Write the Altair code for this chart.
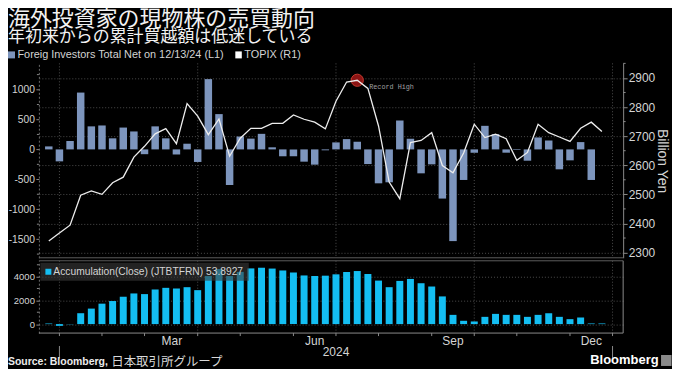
import altair as alt
import pandas as pd

# ---------------- data ----------------
week_dates = [
    "2023-12-22", "2023-12-29", "2024-01-05", "2024-01-12", "2024-01-19", "2024-01-26",
    "2024-02-02", "2024-02-09", "2024-02-16", "2024-02-23", "2024-03-01", "2024-03-08",
    "2024-03-15", "2024-03-22", "2024-03-29", "2024-04-05", "2024-04-12", "2024-04-19",
    "2024-04-26", "2024-05-03", "2024-05-10", "2024-05-17", "2024-05-24", "2024-05-31",
    "2024-06-07", "2024-06-14", "2024-06-21", "2024-06-28", "2024-07-05", "2024-07-12",
    "2024-07-19", "2024-07-26", "2024-08-02", "2024-08-09", "2024-08-16", "2024-08-23",
    "2024-08-30", "2024-09-06", "2024-09-13", "2024-09-20", "2024-09-27", "2024-10-04",
    "2024-10-11", "2024-10-18", "2024-10-25", "2024-11-01", "2024-11-08", "2024-11-15",
    "2024-11-22", "2024-11-29", "2024-12-06", "2024-12-13", "2024-12-20",
]
net_buy = [
    50, -200, 140, 950, 385, 400, 185, 365, 300, -80,
    385, 185, -85, 95, -210, 1175, 590, -595, 215, 180,
    260, 35, -115, -115, -205, -255, -15, 117, 172, 128,
    -245, -567, -550, 483, 178, -400, -250, -822, -1533, -511,
    -56, 394, 256, -55, -10, -189, 200, 150, -333, -183,
    122, -511,
]
topix = [
    2340, 2367, 2394, 2497, 2512, 2500, 2540, 2559, 2628, 2665,
    2708, 2726, 2674, 2812, 2769, 2705, 2759, 2631, 2693, 2727,
    2727, 2744, 2744, 2773, 2758, 2748, 2725, 2820, 2886, 2892,
    2864, 2735, 2542, 2485, 2678, 2685, 2712, 2599, 2574, 2642,
    2741, 2695, 2707, 2691, 2617, 2644, 2741, 2712, 2697, 2682,
    2727, 2748, 2716,
]
accumulation = [
    50, -150, -10, 917, 1306, 1722, 1944, 2306, 2583, 2528,
    2917, 3056, 3000, 3111, 2861, 4050, 4640, 4050, 4400, 4694,
    4750, 4680, 4520, 4350, 4100, 4056, 4080, 4194, 4389, 4472,
    4222, 3667, 3111, 3639, 3806, 3444, 3167, 2333, 778, 278,
    222, 611, 861, 778, 778, 611, 778, 917, 611, 417,
    556, 54, 54,
]
record_date = ["2024-07-12"]
record_value = [2892]
record_label = ["Record High"]

quarter_dates = ["2023-12-29", "2024-03-29", "2024-06-28", "2024-09-27", "2024-12-27"]
month_tick_dates = ["2023-12-29", "2024-01-26", "2024-02-23", "2024-03-29", "2024-04-26",
                    "2024-05-31", "2024-06-28", "2024-07-26", "2024-08-30", "2024-09-27",
                    "2024-10-25", "2024-11-29", "2024-12-27"]
month_labels = ["Mar", "Jun", "Sep", "Dec"]
month_label_dates = ["2024-03-12", "2024-06-14", "2024-09-13", "2024-12-13"]
year_labels = ["2024"]
year_label_dates = ["2024-06-28"]
year_tick_dates = ["2023-12-29", "2024-12-27"]

left_ticks = [-1500, -1000, -500, 0, 500, 1000]
left_minor = [-1750, -1250, -750, -250, 250, 750, 1250]
right_ticks = [2300, 2400, 2500, 2600, 2700, 2800, 2900]
right_minor = [2350, 2450, 2550, 2650, 2750, 2850, 2950]
acc_ticks = [0, 2000, 4000]
acc_minor = [1000, 3000, 5000]

title_text = "海外投資家の現物株の売買動向"
subtitle_text = "年初来からの累計買越額は低迷している"
legend_net = "Foreig Investors Total Net on 12/13/24 (L1)"
legend_topix = "TOPIX (R1)"
legend_acc = "Accumulation(Close) (JTBTFRN) 53.8927"
axis_title_right = "Billion Yen"
source_bold = "Source: Bloomberg,"
source_jp = "日本取引所グループ"
brand = "Bloomberg"

# ---------------- styling ----------------
W, H1, H2 = 586, 195, 72.5
L = -31  # left edge of texts, relative to plot
BAR = "#7d95bd"
CYAN = "#14bef2"
LINE = "#ededed"
TXT = "#d4d4d4"
GRID = "#4c4c4c"
AXC = "#8a8a8a"
FONT_R = "Liberation Sans"
FONT_JP = "Noto Sans CJK JP"
FONT_M = "Liberation Mono"

df_net = pd.DataFrame({"date": pd.to_datetime(week_dates[:len(net_buy)]), "net": net_buy})
df_tpx = pd.DataFrame({"date": pd.to_datetime(week_dates), "topix": topix})
df_acc = pd.DataFrame({"date": pd.to_datetime(week_dates), "acc": accumulation})
df_rec = pd.DataFrame({"date": pd.to_datetime(record_date), "topix": record_value, "label": record_label})
df_q = pd.DataFrame({"date": pd.to_datetime(quarter_dates)})
df_mt = pd.DataFrame({"date": pd.to_datetime(month_tick_dates)})
df_ml = pd.DataFrame({"date": pd.to_datetime(month_label_dates), "t": month_labels})
df_yl = pd.DataFrame({"date": pd.to_datetime(year_label_dates), "t": year_labels})
df_yt = pd.DataFrame({"date": pd.to_datetime(year_tick_dates)})

xs = alt.Scale(domain=[alt.DateTime(year=2023, month=12, date=18, hours=18, minutes=42),
                       alt.DateTime(year=2024, month=12, date=30, hours=16, minutes=48)])


def X():
    return alt.X("date:T", scale=xs, axis=None)


def txt(s, x, y, size, color, font, weight="normal", align="left"):
    return alt.Chart(pd.DataFrame({"t": [s]})).mark_text(
        align=align, baseline="middle", fontSize=size, color=color, font=font, fontWeight=weight
    ).encode(text="t:N", x=alt.value(x), y=alt.value(y))


def box(x1, x2, y1, y2, color, opacity=1.0):
    return alt.Chart(pd.DataFrame({"a": [0]})).mark_rect(color=color, opacity=opacity).encode(
        x=alt.value(x1), x2=alt.value(x2), y=alt.value(y1), y2=alt.value(y2))


def hrule(x1, x2, y, color):
    return alt.Chart(pd.DataFrame({"a": [0]})).mark_rule(color=color).encode(
        x=alt.value(x1), x2=alt.value(x2), y=alt.value(y))


def vrule(x, y1, y2, color):
    return alt.Chart(pd.DataFrame({"a": [0]})).mark_rule(color=color).encode(
        x=alt.value(x), y=alt.value(y1), y2=alt.value(y2))


# ---------------- top panel ----------------
lscale = alt.Scale(domain=[-1812, 1438], nice=False)
laxis = alt.Axis(values=left_ticks, orient="left", grid=False, domain=True, domainColor="#6a6a6a",
                 domainDash=[2, 2], tickColor=AXC, tickSize=3, labelColor=TXT, labelFont=FONT_R,
                 labelFontSize=10.3, labelPadding=1.5, labelExpr="'' + datum.value", title=None)
bars = alt.Chart(df_net).mark_bar(size=7.5, color=BAR).encode(
    x=X(), y=alt.Y("net:Q", scale=lscale, axis=laxis))
lmin = alt.Chart(pd.DataFrame({"net": left_minor})).mark_rule(color=AXC).encode(
    x=alt.value(-2), x2=alt.value(0), y=alt.Y("net:Q", scale=lscale, axis=laxis))
left_group = alt.layer(bars, lmin)

rscale = alt.Scale(domain=[2282, 2950], nice=False, zero=False)
raxis = alt.Axis(values=right_ticks, orient="right", grid=True, gridColor=GRID, gridDash=[1, 2],
                 domain=True, domainColor=AXC, tickColor=AXC, tickSize=4, labelColor=TXT,
                 labelFont=FONT_R, labelFontSize=12, labelPadding=1,
                 labelExpr="'' + datum.value", title=axis_title_right, titleAngle=90,
                 titleFont=FONT_R, titleFontSize=14, titleFontWeight="normal", titleColor=TXT,
                 titlePadding=0)
rmin = alt.Chart(pd.DataFrame({"topix": right_minor})).mark_rule(color=AXC).encode(
    x=alt.value(W), x2=alt.value(W + 2.5), y=alt.Y("topix:Q", scale=rscale, axis=raxis))
rec_pt = alt.Chart(df_rec).mark_point(shape="circle", filled=True, size=150, fill="#8c1414",
                                      stroke="#c43a2e", strokeWidth=1, opacity=1).encode(
    x=X(), y=alt.Y("topix:Q", scale=rscale, axis=raxis))
line = alt.Chart(df_tpx).mark_line(color=LINE, strokeWidth=1.3).encode(
    x=X(), y=alt.Y("topix:Q", scale=rscale, axis=raxis))
rec_tx = alt.Chart(df_rec).mark_text(align="left", baseline="middle", dx=12, dy=7, font=FONT_M,
                                     fontSize=6.8, color="#a0a0a0").encode(
    x=X(), y=alt.Y("topix:Q", scale=rscale, axis=raxis), text="label:N")
right_group = alt.layer(rmin, rec_pt, line, rec_tx)

vq_top = alt.Chart(df_q).mark_rule(color=GRID, strokeDash=[1, 2]).encode(
    x=X(), y=alt.value(0), y2=alt.value(H1))

top = alt.layer(
    vq_top,
    left_group,
    right_group,
    hrule(0, W, H1, "#5c5c5c"),
    txt(title_text, L, -44, 22, "#f2f2f2", FONT_JP),
    txt(subtitle_text, L, -26, 17, "#f2f2f2", FONT_JP),
    box(L, L + 7, -12, -5, BAR),
    txt(legend_net, L + 9.5, -8.5, 10.9, TXT, FONT_R),
    box(197, 203.5, -12, -5, "#ffffff"),
    txt(legend_topix, 206, -8.5, 10.9, TXT, FONT_R),
).resolve_scale(y="independent").properties(width=W, height=H1)

# ---------------- bottom panel ----------------
ascale = alt.Scale(domain=[-756, 5336], nice=False)
aaxis = alt.Axis(values=acc_ticks, orient="left", grid=True, gridColor=GRID, gridDash=[1, 2],
                 domain=True, domainColor="#6a6a6a", domainDash=[2, 2], tickColor=AXC, tickSize=3,
                 labelColor=TXT, labelFont=FONT_R, labelFontSize=9.5, labelPadding=1.5,
                 labelExpr="'' + datum.value", title=None)
abars = alt.Chart(df_acc).mark_bar(size=7, color=CYAN).encode(
    x=X(), y=alt.Y("acc:Q", scale=ascale, axis=aaxis))
amin = alt.Chart(pd.DataFrame({"acc": acc_minor})).mark_rule(color=AXC).encode(
    x=alt.value(-2), x2=alt.value(0), y=alt.Y("acc:Q", scale=ascale, axis=aaxis))
vq_bot = alt.Chart(df_q).mark_rule(color=GRID, strokeDash=[1, 2]).encode(
    x=X(), y=alt.value(0), y2=alt.value(H2))
mticks = alt.Chart(df_mt).mark_rule(color=AXC).encode(
    x=X(), y=alt.value(H2), y2=alt.value(H2 + 3))
mlabels = alt.Chart(df_ml).mark_text(align="center", baseline="middle", fontSize=12, font=FONT_R,
                                     color=TXT).encode(x=X(), y=alt.value(80.5), text="t:N")
ylabels = alt.Chart(df_yl).mark_text(align="center", baseline="middle", fontSize=12, font=FONT_R,
                                     color=TXT).encode(x=X(), y=alt.value(92), text="t:N")
yticks = alt.Chart(df_yt).mark_rule(color=AXC).encode(
    x=X(), y=alt.value(85.5), y2=alt.value(98))

bottom = alt.layer(
    vq_bot,
    abars,
    amin,
    box(1.5, 210.5, 2, 20, "#3a3a3a", 0.6),
    box(6.5, 12.5, 8, 14, CYAN),
    txt(legend_acc, 14.5, 11, 10.3, TXT, FONT_R),
    hrule(0, W, 0, "#5c5c5c"),
    hrule(0, W, H2, AXC),
    vrule(W, 0, H2, AXC),
    mticks,
    mlabels,
    ylabels,
    yticks,
    txt(source_bold, L, 101.5, 10.5, "#ececec", FONT_R, weight="bold"),
    txt(source_jp, L + 103.5, 101.5, 12.5, "#d8d8d8", FONT_JP),
    txt(brand, 553, 100, 13, "#ffffff", FONT_R, weight="bold"),
    box(624, 634.5, 94.5, 105.5, "#8a8a8a"),
).properties(width=W, height=H2)

chart = alt.vconcat(top, bottom, spacing=1).properties(padding=0).configure(
    background="#000000"
).configure_view(strokeWidth=0)

chart.save("out.html", embed_options={"renderer": "svg", "actions": False})
